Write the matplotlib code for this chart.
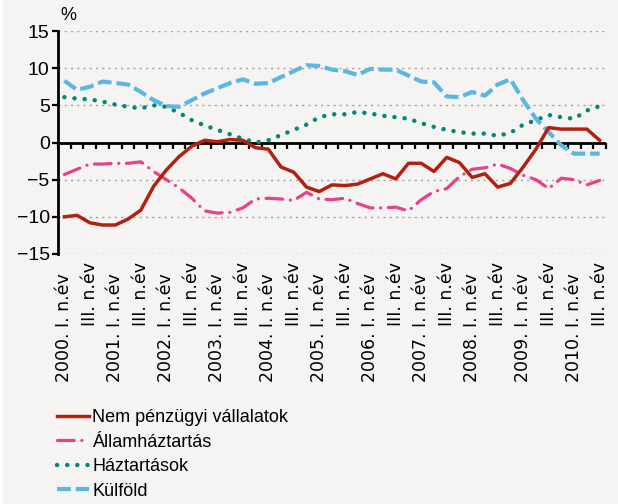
import numpy as np
import matplotlib
matplotlib.use("Agg")
import matplotlib.pyplot as plt
from matplotlib.patches import Rectangle

plt.rcParams['font.family'] = ['Liberation Sans', 'DejaVu Sans']
plt.rcParams['lines.scale_dashes'] = False

# quarterly, 2000 Q1 .. 2010 Q3
years = list(range(2000, 2011))
quarters = [f"{y}. {q}" for y in years for q in ("I", "II", "III", "IV")][:43]

nem_penzugyi = [-10.0, -9.8, -10.8, -11.1, -11.1, -10.3, -9.1, -5.9, -3.7, -1.9,
                -0.5, 0.3, 0.1, 0.4, 0.3, -0.7, -0.9, -3.3, -4.0, -6.0,
                -6.6, -5.7, -5.8, -5.6, -4.9, -4.2, -4.9, -2.8, -2.8, -3.9,
                -2.0, -2.7, -4.7, -4.2, -6.0, -5.5, -3.3, -0.9, 2.0, 1.8,
                1.8, 1.8, 0.3]
allamhaztartas = [-4.3, -3.6, -2.9, -2.9, -2.8, -2.8, -2.6, -3.9, -5.0, -6.1,
                  -7.5, -9.2, -9.5, -9.4, -8.8, -7.6, -7.5, -7.6, -7.8, -6.7,
                  -7.6, -7.7, -7.5, -8.2, -8.8, -8.8, -8.7, -9.2, -7.7, -6.6,
                  -6.2, -4.6, -3.6, -3.4, -2.9, -3.5, -4.4, -5.0, -6.2, -4.8,
                  -5.0, -5.7, -5.1]
haztartasok = [6.1, 5.9, 5.8, 5.5, 5.1, 4.8, 4.6, 5.0, 4.8, 4.0,
               3.0, 2.3, 1.7, 1.1, 0.5, 0.0, 0.3, 1.0, 1.7, 2.4,
               3.4, 3.8, 3.8, 4.1, 3.9, 3.6, 3.4, 3.2, 2.6, 2.1,
               1.7, 1.4, 1.2, 1.2, 0.9, 1.3, 2.4, 3.0, 3.7, 3.4,
               3.2, 4.3, 4.9]
kulfold = [8.3, 7.1, 7.5, 8.2, 8.0, 7.8, 6.8, 5.7, 4.9, 4.8,
           5.7, 6.6, 7.3, 8.0, 8.5, 7.9, 8.0, 8.8, 9.6, 10.4,
           10.3, 9.8, 9.6, 9.1, 9.9, 9.8, 9.8, 9.0, 8.2, 8.1,
           6.2, 6.1, 6.8, 6.3, 7.8, 8.5, 5.7, 3.2, 1.4, -0.4,
           -1.5, -1.5, -1.5]

labels = ["Nem pénzügyi vállalatok", "Államháztartás", "Háztartások", "Külföld"]

tick_labels = []
for q in quarters[::2]:
    y, n = q.split(". ")
    if n == "I":
        tick_labels.append(f"{y}. I. n.év  ")
    else:
        tick_labels.append("III. n.év")

bg = '#f5f4f2'
fig = plt.figure(figsize=(6.18, 5.04), dpi=100, facecolor=bg)
fig.patches.append(Rectangle((0, 0), 3 / 618, 1, transform=fig.transFigure,
                             facecolor='white', edgecolor='none', zorder=-10))
ax = fig.add_axes([58 / 618, 1 - 254 / 504, 548 / 618, 223 / 504])
ax.set_facecolor(bg)

x = np.arange(len(quarters))
ax.axhline(0, color='black', lw=2.0, zorder=2)

ax.plot(x, nem_penzugyi, color='#b22010', lw=2.5, zorder=5, label=labels[0])
ax.plot(x, allamhaztartas, color='#e8418c', lw=2.3, zorder=4,
        dashes=(12, 5.5, 0.1, 5.5), dash_capstyle='round', label=labels[1])
ax.plot(x, haztartasok, color='#00897a', lw=3.2, zorder=3,
        dashes=(0.1, 7.2), dash_capstyle='round', label=labels[2])
ax.plot(x, kulfold, color='#5cb6e2', lw=3.0, zorder=3,
        dashes=(10, 3.5), label=labels[3])

ax.set_xlim(-0.5, len(quarters) - 0.5)
ax.set_ylim(-15, 15)
ax.set_yticks(range(-15, 16, 5))
ax.set_yticklabels([str(v).replace('-', '\u2212') for v in range(-15, 16, 5)])
ax.yaxis.grid(True, color='#a0a0a0', lw=1.0, linestyle=(0, (1.5, 3)))
ax.set_axisbelow(True)

for s in ('top', 'right', 'bottom'):
    ax.spines[s].set_visible(False)
ax.spines['left'].set_linewidth(2.0)
ax.tick_params(axis='y', length=4, width=1.6, pad=2, labelsize=14)

ax.set_xticks(x[::2])
ax.set_xticklabels(tick_labels, rotation=90, fontsize=12.5, family='DejaVu Sans')
ax.tick_params(axis='x', length=0, pad=6)

sec = ax.secondary_xaxis(0, transform=ax.transData)
sec.set_xticks(np.arange(-0.5, len(quarters), 1))
sec.tick_params(axis='x', length=4, width=1.6, direction='out', labelbottom=False)
sec.spines['bottom'].set_visible(False)

fig.text(60 / 618, 1 - 16 / 504, '%', ha='left', va='center', fontsize=13)

fig.legend(loc='upper left', bbox_to_anchor=(57 / 618, 1 - 409 / 504),
           frameon=False, fontsize=13, handlelength=1.75, handletextpad=0.2,
           labelspacing=0.42, borderpad=0, borderaxespad=0)

fig.savefig('out.png', dpi=100, facecolor=bg)
